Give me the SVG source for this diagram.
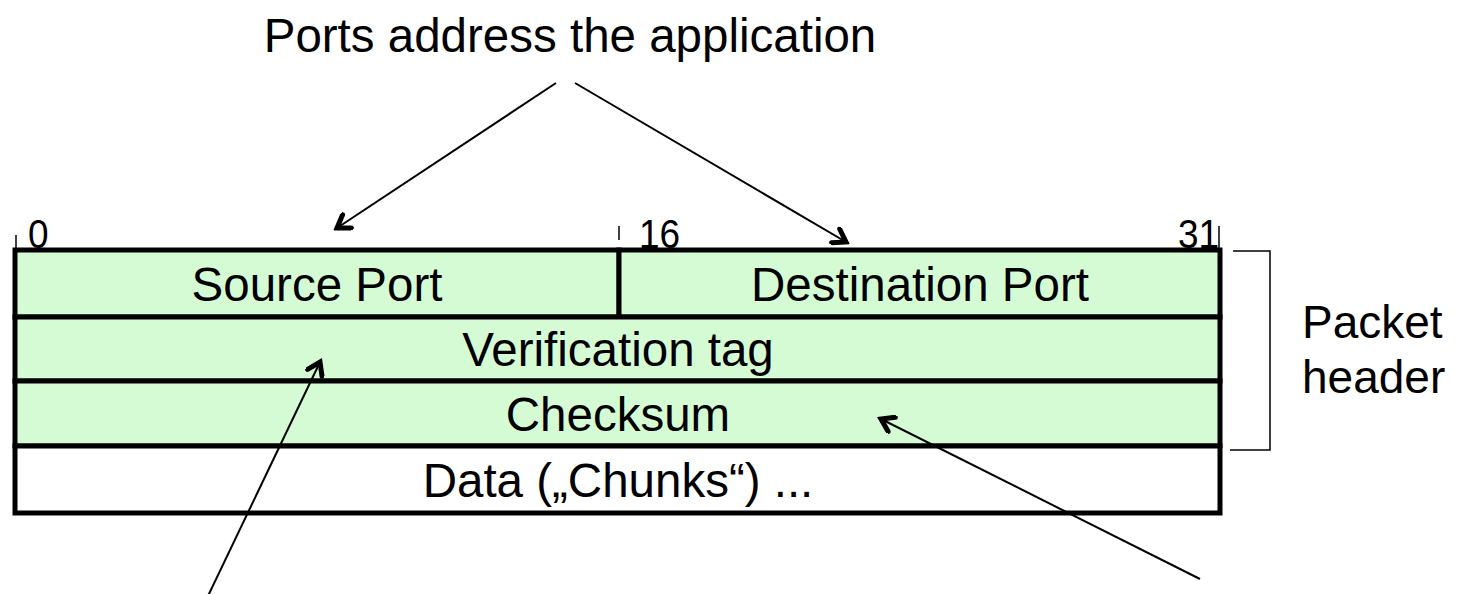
<svg xmlns="http://www.w3.org/2000/svg" width="1458" height="594" viewBox="0 0 1458 594">
  <style>
    text { font-family: "Liberation Sans", Arial, sans-serif; fill: #000; }
    .lbl { font-size: 47.5px; text-anchor: middle; }
    .bit { font-size: 37px; }
    .side { font-size: 46px; }
    .cell { stroke: #000; stroke-width: 5; }
    .hdr { fill: #d5fbd5; }
    .data { fill: #ffffff; }
    .tick { stroke: #000; stroke-width: 1.5; fill: none; }
    .conn { stroke: #000; stroke-width: 2; fill: none; marker-end: url(#open); }
  </style>
  <defs>
    <marker id="open" viewBox="0 0 20 20" refX="16" refY="10" markerWidth="20" markerHeight="20" markerUnits="userSpaceOnUse" orient="auto">
      <path d="M4 2 L16 10 L4 18" fill="none" stroke="#000" stroke-width="5" stroke-linecap="round" stroke-linejoin="miter"/>
    </marker>
  </defs>
  <rect width="1458" height="594" fill="#ffffff"/>

  <!-- heading -->
  <g id="title">
    <text class="lbl" x="570" y="52">Ports address the application</text>
  </g>

  <!-- bit position ticks -->
  <g id="bits">
    <line class="tick" x1="16" y1="235" x2="16" y2="249"/>
    <text class="bit" x="28" y="248" transform="translate(0,-24.8) scale(1,1.1)">0</text>
    <line class="tick" x1="619" y1="226" x2="619" y2="240"/>
    <text class="bit" x="639" y="248" transform="translate(0,-24.8) scale(1,1.1)">16</text>
    <line class="tick" x1="1219" y1="226" x2="1219" y2="248"/>
    <text class="bit" x="1178" y="248" transform="translate(0,-24.8) scale(1,1.1)">31</text>
  </g>

  <!-- header rows -->
  <g id="source-port">
    <rect class="cell hdr" x="15" y="250" width="604" height="67"/>
    <text class="lbl" x="317" y="301">Source Port</text>
  </g>
  <g id="destination-port">
    <rect class="cell hdr" x="619" y="250" width="601" height="67"/>
    <text class="lbl" x="920" y="301">Destination Port</text>
  </g>
  <g id="verification-tag">
    <rect class="cell hdr" x="15" y="317" width="1205" height="64"/>
    <text class="lbl" x="618" y="366">Verification tag</text>
  </g>
  <g id="checksum">
    <rect class="cell hdr" x="15" y="381" width="1205" height="65"/>
    <text class="lbl" x="618" y="431">Checksum</text>
  </g>
  <g id="data">
    <rect class="cell data" x="15" y="446" width="1205" height="67"/>
    <text class="lbl" x="618" y="497">Data („Chunks“) ...</text>
  </g>

  <!-- bracket around the header rows -->
  <g id="packet-header">
    <path class="tick" d="M1233 251 H1270 V450 H1230"/>
    <text class="side" x="1302" y="338">Packet</text>
    <text class="side" x="1302" y="393">header</text>
  </g>

  <!-- pointers -->
  <g id="connectors">
    <line class="conn" x1="556" y1="83" x2="337" y2="228"/>
    <line class="conn" x1="575" y1="83" x2="846" y2="242"/>
    <line class="conn" x1="208" y1="596" x2="320" y2="362"/>
    <line class="conn" x1="1200" y1="579" x2="881" y2="419"/>
  </g>
</svg>
